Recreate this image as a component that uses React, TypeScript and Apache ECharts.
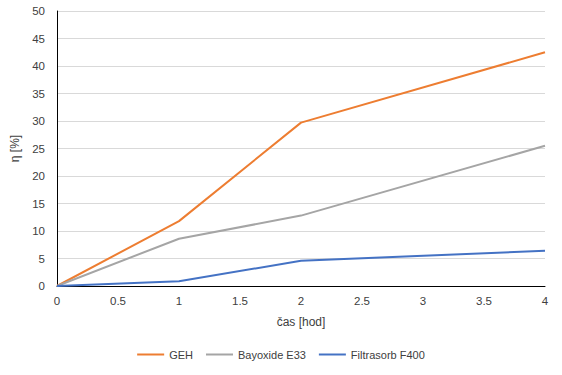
import React, { useEffect, useRef } from "react";
import * as echarts from "echarts";

const xValues = [0, 1, 2, 4];
const gehValues = [0, 11.8, 29.7, 42.5];
const bayoxideValues = [0, 8.6, 12.8, 25.5];
const filtrasorbValues = [0, 0.85, 4.6, 6.4];
const seriesNames = ["GEH", "Bayoxide E33", "Filtrasorb F400"];
const seriesColors = ["#ED7D31", "#A5A5A5", "#4472C4"];

const FONT = "Liberation Sans, Arial, sans-serif";
const TXT = "#404040";

export default function App() {
  const ref = useRef<HTMLDivElement>(null);
  useEffect(() => {
    if (!ref.current) return;
    const chart = echarts.init(ref.current, undefined, { renderer: "svg" });
    const all = [gehValues, bayoxideValues, filtrasorbValues];
    chart.setOption({
      animation: false,
      grid: { left: 57, right: 17, top: 11, bottom: 89 },
      legend: {
        bottom: 10,
        left: "center",
        icon: "rect",
        itemWidth: 27,
        itemHeight: 2,
        itemGap: 13,
        textStyle: { fontFamily: FONT, fontSize: 11, color: TXT },
        data: seriesNames,
      },
      xAxis: {
        type: "value",
        min: 0,
        max: 4,
        interval: 0.5,
        name: "čas [hod]",
        nameLocation: "middle",
        nameGap: 30,
        nameTextStyle: { fontFamily: FONT, fontSize: 12, color: TXT },
        axisLine: { show: true, lineStyle: { color: "#000", width: 1 } },
        axisTick: { show: false },
        splitLine: { show: false },
        axisLabel: { fontFamily: FONT, fontSize: 11.5, color: TXT, margin: 9 },
      },
      yAxis: {
        type: "value",
        min: 0,
        max: 50,
        interval: 5,
        name: "η [%]",
        nameLocation: "middle",
        nameGap: 35,
        nameTextStyle: { fontFamily: FONT, fontSize: 12, color: TXT },
        axisLine: { show: true, lineStyle: { color: "#000", width: 1 } },
        axisTick: { show: false },
        splitLine: { show: true, lineStyle: { color: "#D9D9D9", width: 1 } },
        axisLabel: { fontFamily: FONT, fontSize: 11.5, color: TXT, margin: 12 },
      },
      series: seriesNames.map((name, i) => ({
        name,
        type: "line",
        data: xValues.map((x, j) => [x, all[i][j]]),
        showSymbol: false,
        symbol: "none",
        lineStyle: { color: seriesColors[i], width: 2 },
        itemStyle: { color: seriesColors[i] },
      })),
    });
    return () => chart.dispose();
  }, []);
  return <div ref={ref} style={{ width: 562, height: 375, position: "absolute", left: 0, top: 0 }} />;
}
